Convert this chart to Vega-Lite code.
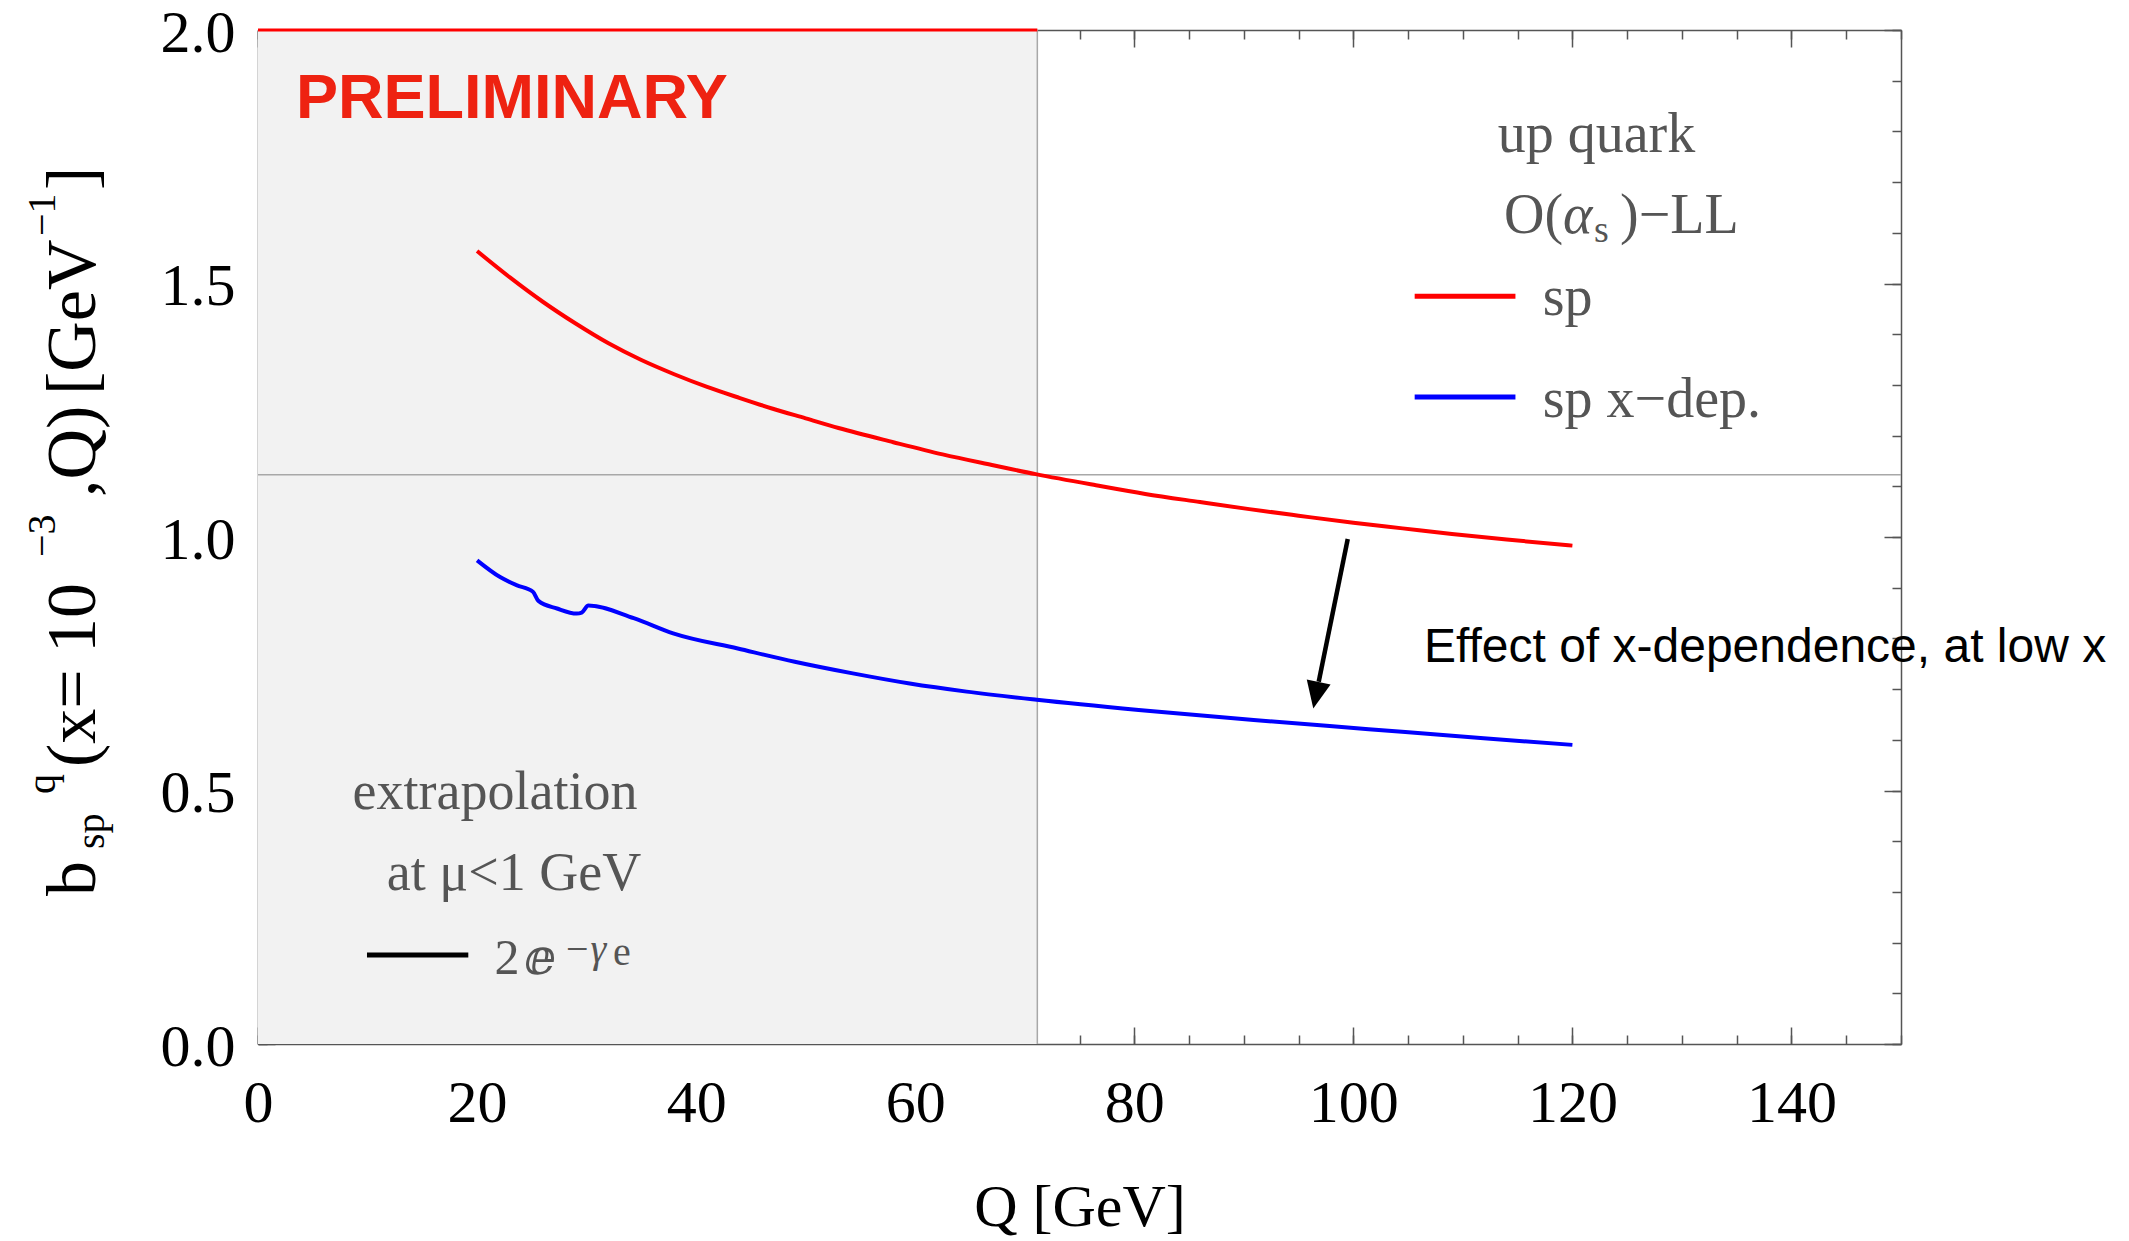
{
  "$schema": "https://vega.github.io/schema/vega-lite/v6.json",
  "width": 1643,
  "height": 1014,
  "autosize": {"type": "none"},
  "padding": {"left": 258, "top": 30, "right": 228, "bottom": 197},
  "background": "white",
  "config": {
    "view": {"stroke": null},
    "axis": {
      "grid": false,
      "labelFont": "Liberation Serif",
      "labelFontSize": 60,
      "labelColor": "#000000",
      "tickColor": "#555555",
      "tickWidth": 1.5,
      "domainColor": "#555555",
      "domainWidth": 1.5,
      "labelFlush": false,
      "labelOverlap": false
    }
  },
  "encoding": {
    "x": {"field": "Q", "type": "quantitative", "scale": {"domain": [0, 150], "nice": false, "zero": false}, "axis": null},
    "y": {"field": "b", "type": "quantitative", "scale": {"domain": [0, 2], "nice": false, "zero": false}, "axis": null}
  },
  "resolve": {"axis": {"x": "independent", "y": "independent"}},
  "layer": [
    {
      "data": {"values": [{"Q": 0, "Q2": 71.15, "b": 0, "b2": 2}]},
      "mark": {"type": "rect", "color": "#f2f2f2"},
      "encoding": {
        "x": {"field": "Q", "type": "quantitative", "scale": {"domain": [0, 150], "nice": false, "zero": false},
          "axis": {"orient": "bottom", "values": [0, 20, 40, 60, 80, 100, 120, 140], "tickSize": -17, "labelPadding": 47, "format": "d",
            "title": "Q [GeV]", "titleFont": "Liberation Serif", "titleFontSize": 60, "titleFontWeight": "normal", "titleColor": "#000000",
            "titleX": 821.5, "titleY": 181, "titleBaseline": "alphabetic", "titleAlign": "center"}},
        "x2": {"field": "Q2"},
        "y": {"field": "b", "type": "quantitative", "scale": {"domain": [0, 2], "nice": false, "zero": false},
          "axis": {"orient": "left", "values": [0, 0.5, 1, 1.5, 2], "tickSize": -17, "labelPadding": 40, "format": ".1f", "title": null, "labelBaseline": "alphabetic", "labelOffset": 21}},
        "y2": {"field": "b2"}
      }
    },
    {
      "data": {"values": [{"Q": 71.15, "b": 0, "b2": 2}]},
      "mark": {"type": "rule", "color": "#a8a8a8", "strokeWidth": 1.5},
      "encoding": {
        "x": {"field": "Q", "type": "quantitative", "scale": {"domain": [0, 150], "nice": false, "zero": false},
          "axis": {"orient": "bottom", "values": [0,5,10,15,20,25,30,35,40,45,50,55,60,65,70,75,80,85,90,95,100,105,110,115,120,125,130,135,140,145,150], "tickSize": -9, "labels": false, "domain": false, "title": null}},
        "y": {"field": "b", "type": "quantitative", "scale": {"domain": [0, 2], "nice": false, "zero": false},
          "axis": {"orient": "left", "values": [0,0.1,0.2,0.3,0.4,0.5,0.6,0.7,0.8,0.9,1,1.1,1.2,1.3,1.4,1.5,1.6,1.7,1.8,1.9,2], "tickSize": -9, "labels": false, "domain": false, "title": null}},
        "y2": {"field": "b2"}
      }
    },
    {
      "data": {"values": [{"Q": 0, "Q2": 150, "b": 1.1229}]},
      "mark": {"type": "rule", "color": "#a8a8a8", "strokeWidth": 1.5},
      "encoding": {
        "x": {"field": "Q", "type": "quantitative", "scale": {"domain": [0, 150], "nice": false, "zero": false},
          "axis": {"orient": "top", "values": [0, 20, 40, 60, 80, 100, 120, 140], "tickSize": -17, "labels": false, "title": null}},
        "x2": {"field": "Q2"},
        "y": {"field": "b", "type": "quantitative", "scale": {"domain": [0, 2], "nice": false, "zero": false},
          "axis": {"orient": "right", "values": [0, 0.5, 1, 1.5, 2], "tickSize": -17, "labels": false, "title": null}}
      }
    },
    {
      "data": {"values": [{"Q": 0, "Q2": 71.15, "b": 2}]},
      "mark": {"type": "rule", "color": "#ff0000", "strokeWidth": 3},
      "encoding": {
        "x": {"field": "Q", "type": "quantitative", "scale": {"domain": [0, 150], "nice": false, "zero": false},
          "axis": {"orient": "top", "values": [0,5,10,15,20,25,30,35,40,45,50,55,60,65,70,75,80,85,90,95,100,105,110,115,120,125,130,135,140,145,150], "tickSize": -9, "labels": false, "domain": false, "title": null}},
        "x2": {"field": "Q2"},
        "y": {"field": "b", "type": "quantitative", "scale": {"domain": [0, 2], "nice": false, "zero": false},
          "axis": {"orient": "right", "values": [0,0.1,0.2,0.3,0.4,0.5,0.6,0.7,0.8,0.9,1,1.1,1.2,1.3,1.4,1.5,1.6,1.7,1.8,1.9,2], "tickSize": -9, "labels": false, "domain": false, "title": null}}
      }
    },
    {
      "data": {"values": [
        {"Q": 20, "b": 1.564, "series": "sp"},
        {"Q": 23, "b": 1.512, "series": "sp"},
        {"Q": 26, "b": 1.464, "series": "sp"},
        {"Q": 29, "b": 1.421, "series": "sp"},
        {"Q": 32, "b": 1.382, "series": "sp"},
        {"Q": 35, "b": 1.349, "series": "sp"},
        {"Q": 38, "b": 1.321, "series": "sp"},
        {"Q": 41, "b": 1.296, "series": "sp"},
        {"Q": 44, "b": 1.274, "series": "sp"},
        {"Q": 47, "b": 1.253, "series": "sp"},
        {"Q": 50, "b": 1.234, "series": "sp"},
        {"Q": 53, "b": 1.215, "series": "sp"},
        {"Q": 58, "b": 1.187, "series": "sp"},
        {"Q": 62.5, "b": 1.163, "series": "sp"},
        {"Q": 67, "b": 1.142, "series": "sp"},
        {"Q": 71, "b": 1.124, "series": "sp"},
        {"Q": 76.5, "b": 1.102, "series": "sp"},
        {"Q": 81, "b": 1.085, "series": "sp"},
        {"Q": 86, "b": 1.069, "series": "sp"},
        {"Q": 90.5, "b": 1.055, "series": "sp"},
        {"Q": 95, "b": 1.042, "series": "sp"},
        {"Q": 100, "b": 1.028, "series": "sp"},
        {"Q": 104.5, "b": 1.017, "series": "sp"},
        {"Q": 109, "b": 1.006, "series": "sp"},
        {"Q": 114, "b": 0.995, "series": "sp"},
        {"Q": 120, "b": 0.983, "series": "sp"},
        {"Q": 20, "b": 0.954, "series": "sp x-dep."},
        {"Q": 22.1, "b": 0.921, "series": "sp x-dep."},
        {"Q": 23.6, "b": 0.905, "series": "sp x-dep."},
        {"Q": 25.1, "b": 0.892, "series": "sp x-dep."},
        {"Q": 25.6, "b": 0.874, "series": "sp x-dep."},
        {"Q": 27.3, "b": 0.859, "series": "sp x-dep."},
        {"Q": 29.1, "b": 0.849, "series": "sp x-dep."},
        {"Q": 29.55, "b": 0.851, "series": "sp x-dep."},
        {"Q": 30.16, "b": 0.865, "series": "sp x-dep."},
        {"Q": 34.3, "b": 0.840, "series": "sp x-dep."},
        {"Q": 37.9, "b": 0.810, "series": "sp x-dep."},
        {"Q": 43.8, "b": 0.780, "series": "sp x-dep."},
        {"Q": 49, "b": 0.754, "series": "sp x-dep."},
        {"Q": 54.3, "b": 0.731, "series": "sp x-dep."},
        {"Q": 59.5, "b": 0.711, "series": "sp x-dep."},
        {"Q": 64.7, "b": 0.695, "series": "sp x-dep."},
        {"Q": 71.1, "b": 0.679, "series": "sp x-dep."},
        {"Q": 80.4, "b": 0.659, "series": "sp x-dep."},
        {"Q": 90.9, "b": 0.639, "series": "sp x-dep."},
        {"Q": 101.4, "b": 0.621, "series": "sp x-dep."},
        {"Q": 111.9, "b": 0.603, "series": "sp x-dep."},
        {"Q": 120, "b": 0.590, "series": "sp x-dep."}
      ]},
      "mark": {"type": "line", "strokeWidth": 4, "interpolate": "monotone"},
      "encoding": {
        "color": {"field": "series", "type": "nominal", "scale": {"domain": ["sp", "sp x-dep.", "extrapolation"], "range": ["#ff0000", "#0000ff", "#000000"]}, "legend": null}
      }
    },
    {
      "data": {"values": [
        {"Q": 105.6, "Q2": 114.8, "b": 1.475, "series": "sp"},
        {"Q": 105.6, "Q2": 114.8, "b": 1.276, "series": "sp x-dep."},
        {"Q": 9.95, "Q2": 19.2, "b": 0.1755, "series": "extrapolation"}
      ]},
      "mark": {"type": "rule", "strokeWidth": 5},
      "encoding": {
        "x2": {"field": "Q2"},
        "color": {"field": "series", "type": "nominal", "scale": {"domain": ["sp", "sp x-dep.", "extrapolation"], "range": ["#ff0000", "#0000ff", "#000000"]}, "legend": null}
      }
    },
    {
      "data": {"values": [{"Q": 99.49, "b": 0.9961, "Q2": 96.84, "b2": 0.7144}]},
      "mark": {"type": "rule", "color": "#000000", "strokeWidth": 4.5},
      "encoding": {"x2": {"field": "Q2"}, "y2": {"field": "b2"}}
    },
    {
      "data": {"values": [{"Q": 96.59, "b": 0.688}]},
      "mark": {"type": "point", "shape": "M0,1L-0.9,-1L0.9,-1Z", "filled": true, "color": "#000000", "opacity": 1, "size": 729, "angle": 11.5, "strokeWidth": 0},
      "encoding": {}
    },
    {
      "data": {"values": [{"Q": 3.47, "b": 1.826, "t": "PRELIMINARY"}]},
      "mark": {"type": "text", "font": "Liberation Sans, Arial, sans-serif", "fontWeight": "bold", "fontSize": 63, "color": "#ee2211", "align": "left", "baseline": "alphabetic"},
      "encoding": {"text": {"field": "t"}}
    },
    {
      "data": {"values": [{"Q": 122.2, "b": 1.760, "t": "up quark"}]},
      "mark": {"type": "text", "font": "Liberation Serif, serif", "fontSize": 56, "color": "#555555", "align": "center", "baseline": "alphabetic"},
      "encoding": {"text": {"field": "t"}}
    },
    {
      "data": {"values": [
        {"Q": 113.75, "b": 1.600, "t": "O("},
        {"Q": 124.35, "b": 1.600, "t": ")−LL"},
        {"Q": 117.3, "b": 1.438, "t": "sp"},
        {"Q": 117.3, "b": 1.237, "t": "sp x−dep."}
      ]},
      "mark": {"type": "text", "font": "Liberation Serif, serif", "fontSize": 56, "color": "#555555", "align": "left", "baseline": "alphabetic"},
      "encoding": {"text": {"field": "t"}}
    },
    {
      "data": {"values": [{"Q": 119.15, "b": 1.600, "t": "α"}]},
      "mark": {"type": "text", "font": "Liberation Serif, serif", "fontStyle": "italic", "fontSize": 56, "color": "#555555", "align": "left", "baseline": "alphabetic"},
      "encoding": {"text": {"field": "t"}}
    },
    {
      "data": {"values": [{"Q": 121.98, "b": 1.582, "t": "s"}]},
      "mark": {"type": "text", "font": "Liberation Serif, serif", "fontSize": 38, "color": "#555555", "align": "left", "baseline": "alphabetic"},
      "encoding": {"text": {"field": "t"}}
    },
    {
      "data": {"values": [
        {"Q": 21.64, "b": 0.4635, "t": "extrapolation"},
        {"Q": 23.37, "b": 0.3037, "t": "at μ<1 GeV"}
      ]},
      "mark": {"type": "text", "font": "Liberation Serif, serif", "fontSize": 54, "color": "#555555", "align": "center", "baseline": "alphabetic"},
      "encoding": {"text": {"field": "t"}}
    },
    {
      "data": {"values": [{"Q": 21.6, "b": 0.138, "t": "2"}, {"Q": 24.3, "b": 0.138, "t": "ⅇ"}]},
      "mark": {"type": "text", "font": "Liberation Serif, DejaVu Serif, serif", "fontSize": 50, "color": "#555555", "align": "left", "baseline": "alphabetic"},
      "encoding": {"text": {"field": "t"}}
    },
    {
      "data": {"values": [{"Q": 27.9, "b": 0.1617, "t": "−γ"}]},
      "mark": {"type": "text", "font": "Liberation Serif, serif", "fontSize": 40, "fontStyle": "italic", "color": "#555555", "align": "left", "baseline": "alphabetic"},
      "encoding": {"text": {"field": "t"}}
    },
    {
      "data": {"values": [{"Q": 32.4, "b": 0.155, "t": "e"}]},
      "mark": {"type": "text", "font": "Liberation Serif, serif", "fontSize": 40, "color": "#555555", "align": "left", "baseline": "alphabetic"},
      "encoding": {"text": {"field": "t"}}
    },
    {
      "data": {"values": [{"Q": 106.45, "b": 0.7535, "t": "Effect of x-dependence, at low x"}]},
      "mark": {"type": "text", "font": "Liberation Sans, Arial, sans-serif", "fontSize": 48, "color": "#000000", "align": "left", "baseline": "alphabetic"},
      "encoding": {"text": {"field": "t"}}
    },
    {
      "data": {"values": [
        {"Q": -14.88, "b": 0.2919, "t": "b"},
        {"Q": -14.88, "b": 0.5464, "t": "(x="},
        {"Q": -14.88, "b": 0.7712, "t": "10"},
        {"Q": -14.88, "b": 1.0789, "t": ",Q)"},
        {"Q": -14.88, "b": 1.2801, "t": "[GeV"},
        {"Q": -14.88, "b": 1.6844, "t": "]"}
      ]},
      "mark": {"type": "text", "font": "Liberation Serif, serif", "fontSize": 70, "color": "#000000", "align": "left", "baseline": "alphabetic", "angle": 270},
      "encoding": {"text": {"field": "t"}}
    },
    {
      "data": {"values": [
        {"Q": -18.53, "b": 0.4931, "t": "q"},
        {"Q": -18.53, "b": 0.9606, "t": "−3"},
        {"Q": -18.53, "b": 1.5937, "t": "−1"}
      ]},
      "mark": {"type": "text", "font": "Liberation Serif, serif", "fontSize": 40, "color": "#000000", "align": "left", "baseline": "alphabetic", "angle": 270},
      "encoding": {"text": {"field": "t"}}
    },
    {
      "data": {"values": [{"Q": -14.06, "b": 0.3846, "t": "sp"}]},
      "mark": {"type": "text", "font": "Liberation Serif, serif", "fontSize": 40, "color": "#000000", "align": "left", "baseline": "alphabetic", "angle": 270},
      "encoding": {"text": {"field": "t"}}
    }
  ]
}
